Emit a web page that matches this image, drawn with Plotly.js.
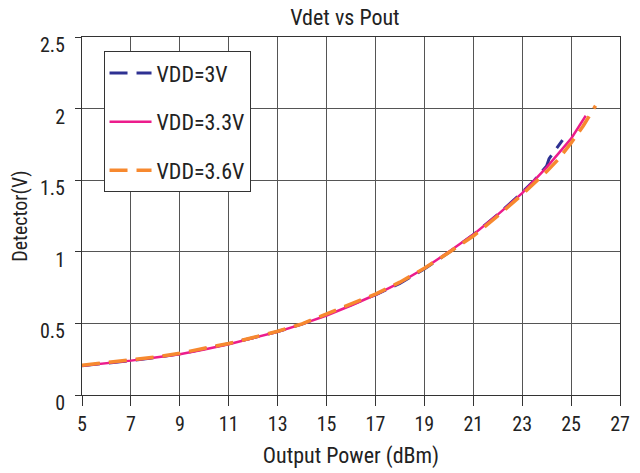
<!DOCTYPE html>
<html><head><meta charset="utf-8">
<script src="https://cdn.plot.ly/plotly-3.0.1.min.js"></script>
<style>body{margin:0;background:#fff}#c{width:640px;height:473px}</style>
</head><body><div id="c"></div>
<script>
const x3 = [5,6,7,8,9,10,11,12,13,14,15,16,17,18,19,20,21,22,23,23.5,24,24.1,24.65];
const v3 = [0.205,0.222,0.240,0.262,0.288,0.322,0.358,0.400,0.443,0.495,0.560,0.630,0.700,0.780,0.880,0.995,1.120,1.260,1.415,1.500,1.600,1.650,1.780];
const x33 = [5,6,7,8,9,10,11,12,13,14,15,16,17,18,19,20,21,22,23,24,25,25.6];
const v33 = [0.205,0.222,0.240,0.262,0.285,0.318,0.355,0.398,0.442,0.495,0.555,0.625,0.700,0.785,0.885,1.000,1.120,1.260,1.410,1.590,1.790,1.950];
const x36 = [5,6,7,8,9,10,11,12,13,14,15,16,17,18,19,20,21,22,23,24,24.5,25,25.5,26];
const v36 = [0.208,0.225,0.243,0.265,0.292,0.325,0.360,0.402,0.445,0.497,0.565,0.635,0.705,0.788,0.885,0.995,1.110,1.250,1.400,1.560,1.650,1.760,1.880,2.020];
const names = ['VDD=3V','VDD=3.3V','VDD=3.6V'];
const font = 'Roboto Condensed, Roboto, sans-serif';
const data = [
  {x:x3,y:v3,name:names[0],mode:'lines',legendgroup:'a',line:{color:'#2e3192',width:3,dash:'18px,9px'}},
  {x:x33,y:v33,name:names[1],mode:'lines',legendgroup:'b',line:{color:'#ec1c8c',width:2.5}},
  {x:x36,y:v36,name:names[2],mode:'lines',legendgroup:'c',line:{color:'#f7892f',width:3.5,dash:'18px,9px'}}
];
const layout = {
  width:640,height:473,
  margin:{l:82,r:20,t:37,b:78},
  paper_bgcolor:'#fff',plot_bgcolor:'#fff',
  font:{family:font,size:20,color:'#222'},
  title:{text:'Vdet vs Pout',font:{family:font,size:22,color:'#222'},x:0.539,xanchor:'center',y:0.964,yanchor:'middle'},
  xaxis:{range:[5,27],tick0:5,dtick:2,showgrid:true,gridcolor:'#555',gridwidth:1,
    showline:true,linecolor:'#333',linewidth:1,mirror:true,ticks:'outside',ticklen:10,tickcolor:'#333',
    tickfont:{family:font,size:20,color:'#222'},ticklabelstandoff:1,
    zeroline:false,title:{text:'Output Power (dBm)',font:{family:font,size:22,color:'#222'},standoff:12}},
  yaxis:{range:[0,2.5],dtick:0.5,showgrid:true,gridcolor:'#555',gridwidth:1,
    showline:true,linecolor:'#333',linewidth:1,mirror:true,ticks:'outside',ticklen:6,tickcolor:'#333',
    tickfont:{family:font,size:20,color:'#222'},ticklabelshift:8,ticklabelstandoff:6,
    zeroline:false,title:{text:'Detector(V)',font:{family:font,size:20,color:'#222'},standoff:6}},
  legend:{x:0.04,y:0.96,xanchor:'left',yanchor:'top',bgcolor:'#fff',bordercolor:'#333',borderwidth:1,
    font:{family:font,size:22,color:'#222'},tracegroupgap:17,traceorder:'grouped',itemwidth:42},
  showlegend:true
};
Plotly.newPlot('c',data,layout,{displayModeBar:false,staticPlot:true});
</script></body></html>
